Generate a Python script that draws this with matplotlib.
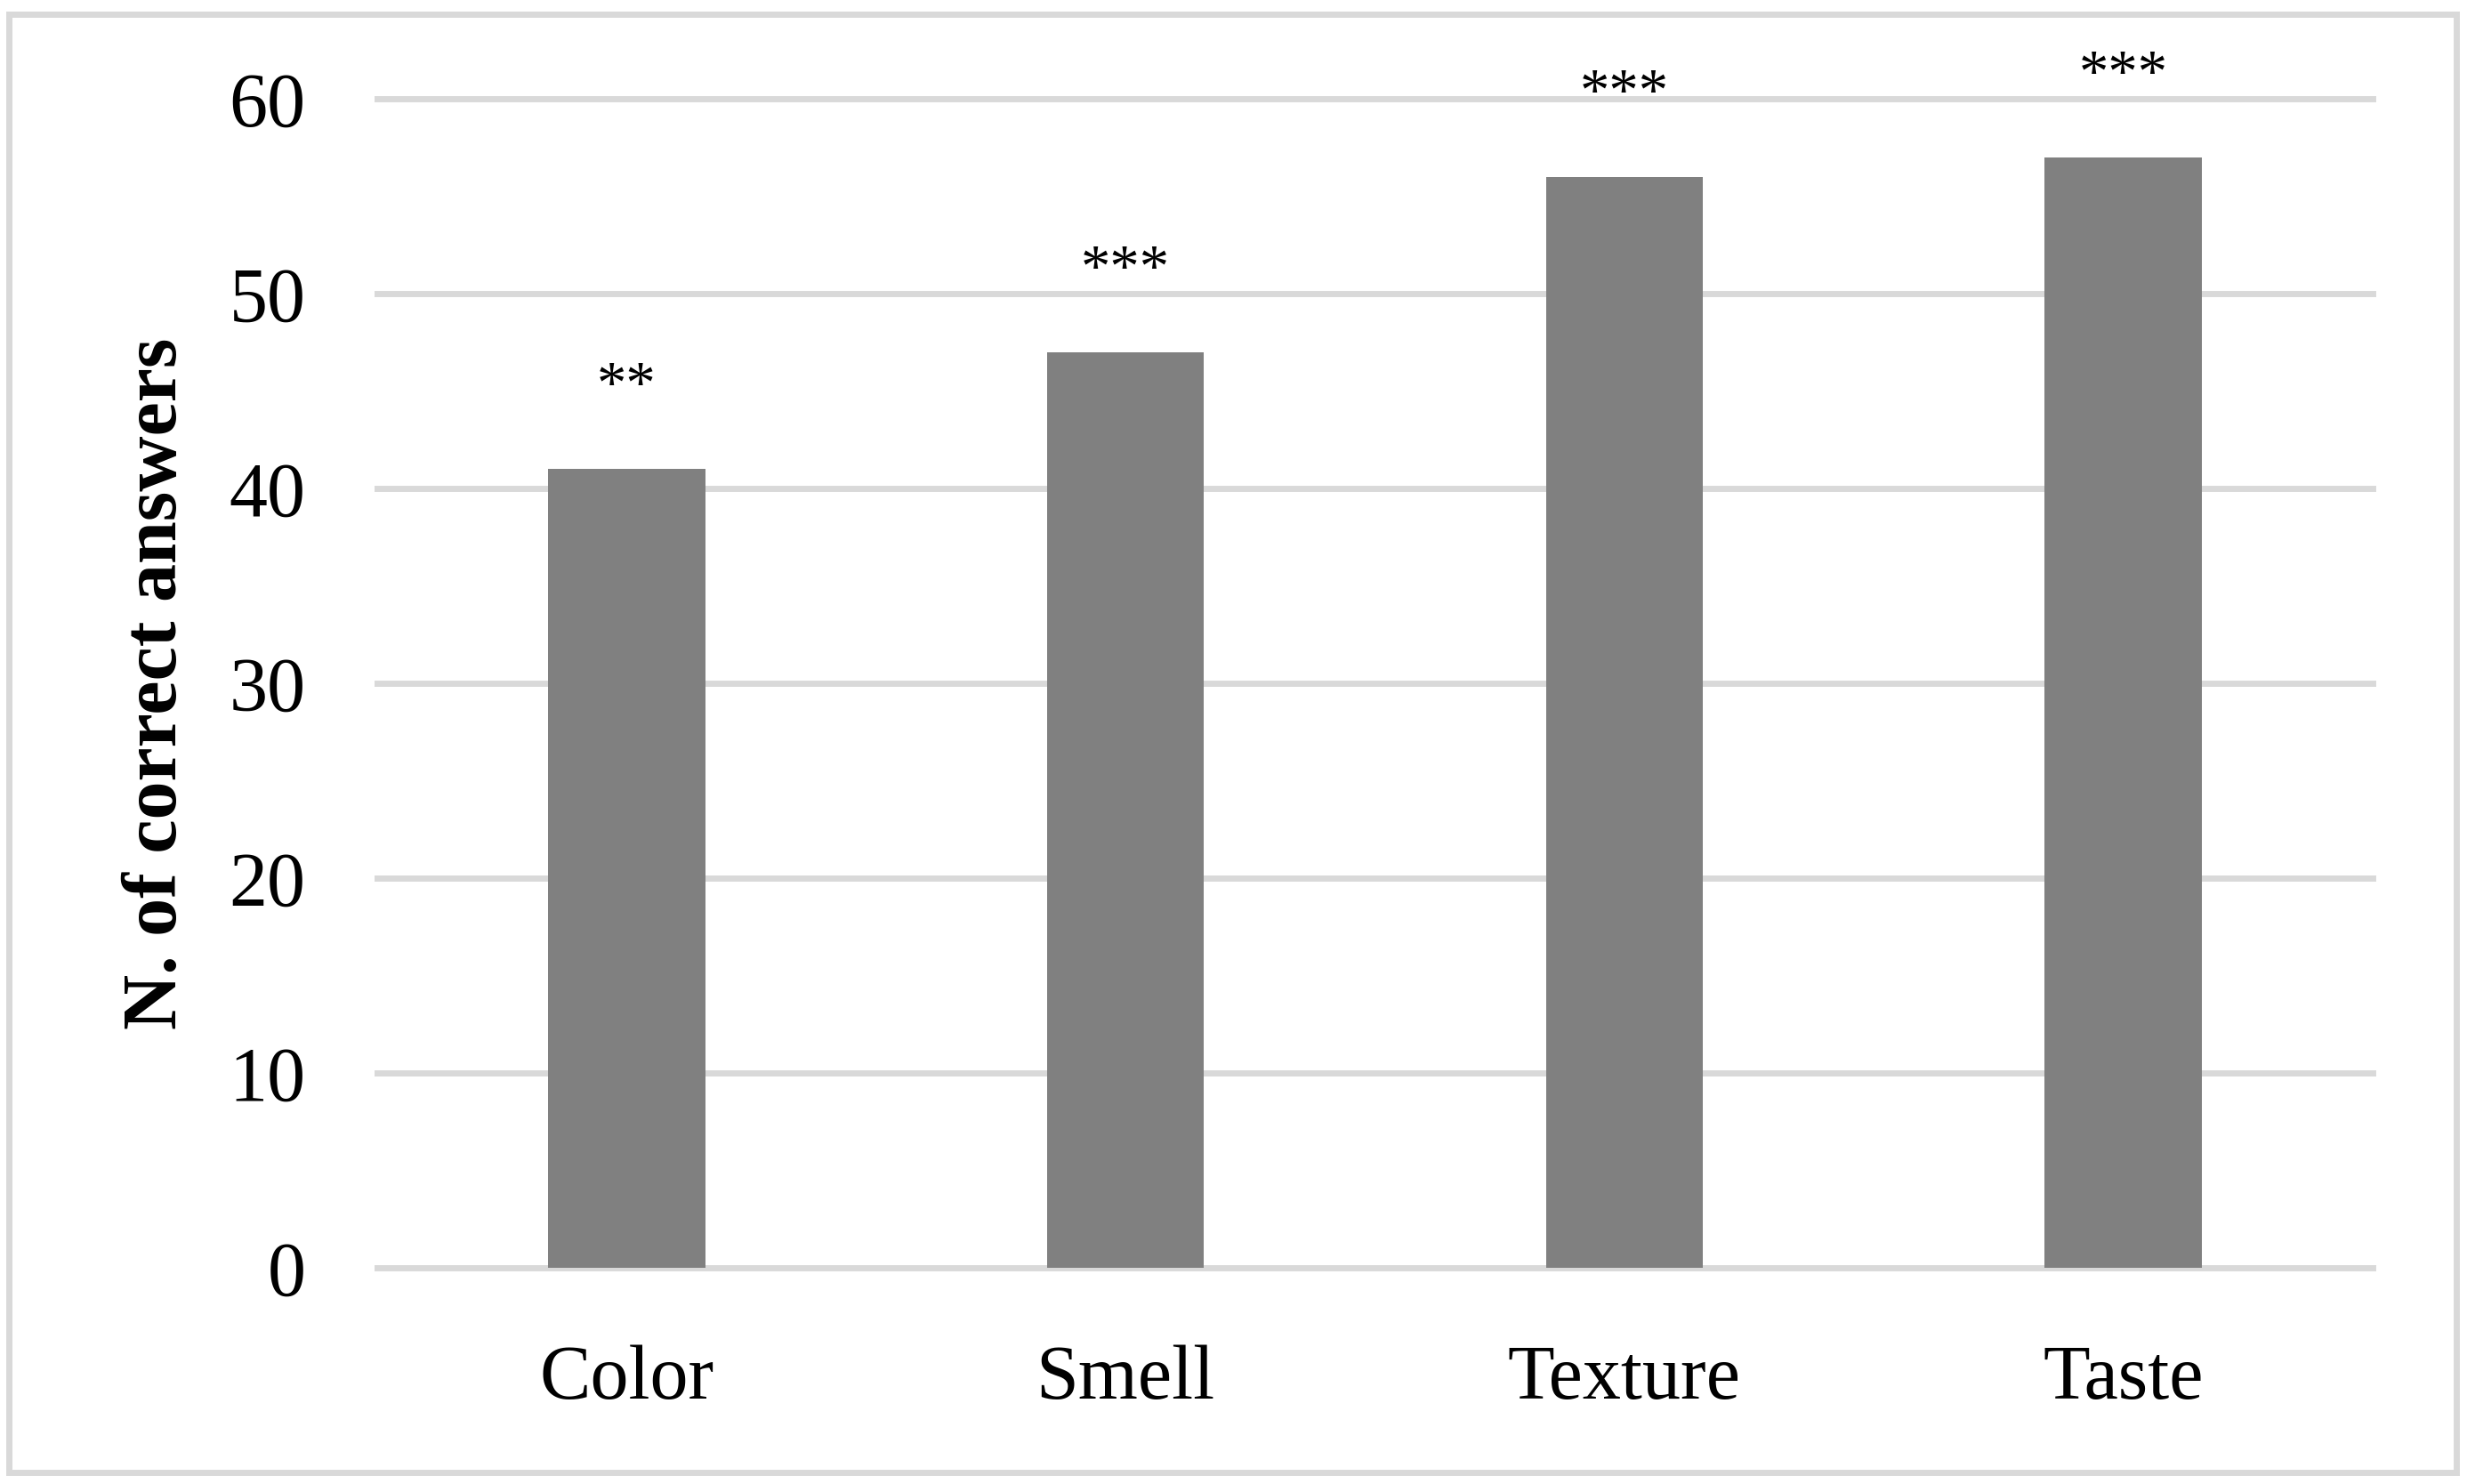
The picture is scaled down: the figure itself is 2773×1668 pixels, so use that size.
import matplotlib
matplotlib.use("Agg")
import matplotlib.pyplot as plt
from matplotlib.patches import Rectangle

categories = ["Color", "Smell", "Texture", "Taste"]
values = [41, 47, 56, 57]
significance = ["**", "***", "***", "***"]
yticks = [0, 10, 20, 30, 40, 50, 60]

plt.rcParams['font.family'] = ['Liberation Serif', 'DejaVu Serif']

W, H, DPI = 2773, 1668, 200
fig = plt.figure(figsize=(W / DPI, H / DPI), dpi=DPI)
ax = fig.add_axes([424 / W, 1 - 1425 / H, (2667 - 424) / W, (1425 - 111) / H])

x = range(len(categories))
bars = ax.bar(x, values, width=0.315, color="#808080", zorder=3)

for xi, v, s in zip(x, values, significance):
    ax.annotate(s, (xi, v), xytext=(0, 22), textcoords="offset points",
                ha="center", va="bottom", fontsize=24, color="black")

ax.set_xlim(-0.5, len(categories) - 0.5)
ax.set_ylim(0, 60)
ax.set_yticks(yticks)
ax.set_yticklabels([str(t) for t in yticks])
ax.set_xticks(list(x))
ax.set_xticklabels(categories)
ax.tick_params(axis="y", length=0, pad=29, labelsize=31)
ax.tick_params(axis="x", length=0, pad=31, labelsize=31)
ax.yaxis.grid(True, color="#D9D9D9", linewidth=2.5, zorder=0)
ax.set_axisbelow(True)
for sp in ax.spines.values():
    sp.set_visible(False)
for gl in ax.get_ygridlines():
    gl.set_clip_on(False)

ax.set_ylabel("N. of correct answers", fontsize=31, fontweight="bold")
ax.yaxis.label.set_va("center")
ax.yaxis.set_label_coords(-(424 - 177) / (2667 - 424), 0.5)

border = Rectangle((10 / W, 1 - 1655 / H), (2761 - 10) / W, (1655 - 16) / H,
                   transform=fig.transFigure, fill=False, edgecolor="#D9D9D9",
                   linewidth=2.5)
fig.patches.append(border)

fig.savefig("out.png", dpi=DPI, facecolor="white")
